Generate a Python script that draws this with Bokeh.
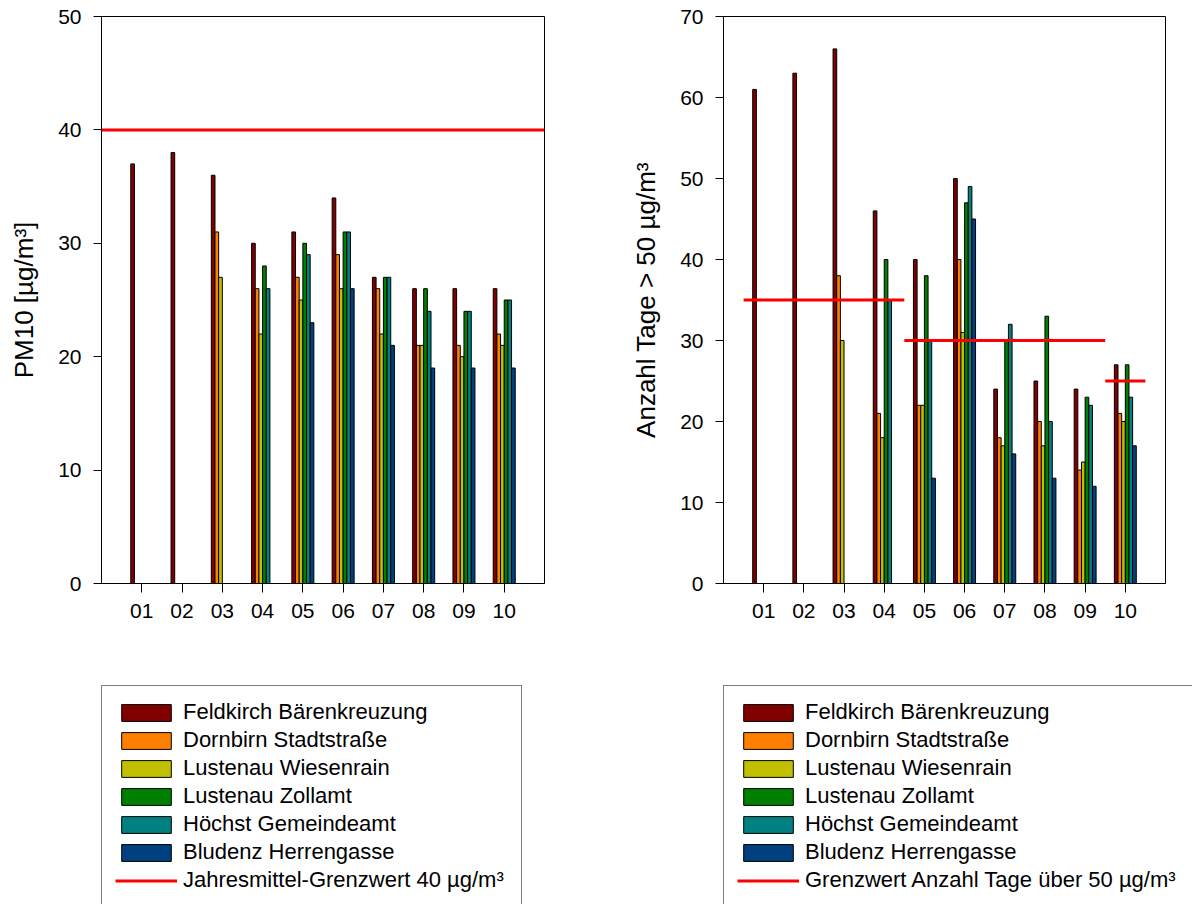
import numpy as np
from bokeh.plotting import figure
from bokeh.models import Range1d, FixedTicker, Legend, LegendItem, ColumnDataSource
from bokeh.layouts import row, column
from bokeh.embed import file_html
from bokeh.resources import INLINE

# ---------------- data ----------------
categories = ["01", "02", "03", "04", "05", "06", "07", "08", "09", "10"]
stations = ["Feldkirch Bärenkreuzung", "Dornbirn Stadtstraße", "Lustenau Wiesenrain",
            "Lustenau Zollamt", "Höchst Gemeindeamt", "Bludenz Herrengasse"]
colors = ["#800000", "#FF8000", "#C0C000", "#008000", "#008080", "#004080"]

# PM10 annual mean [µg/m³]
pm10_feldkirch = [37, 38, 36, 30, 31, 34, 27, 26, 26, 26]
pm10_dornbirn = [None, None, 31, 26, 27, 29, 26, 21, 21, 22]
pm10_wiesenrain = [None, None, 27, 22, 25, 26, 22, 21, 20, 21]
pm10_zollamt = [None, None, None, 28, 30, 31, 27, 26, 24, 25]
pm10_hoechst = [None, None, None, 26, 29, 31, 27, 24, 24, 25]
pm10_bludenz = [None, None, None, None, 23, 26, 21, 19, 19, 19]

# days > 50 µg/m³
days_feldkirch = [61, 63, 66, 46, 40, 50, 24, 25, 24, 27]
days_dornbirn = [None, None, 38, 21, 22, 40, 18, 20, 14, 21]
days_wiesenrain = [None, None, 30, 18, 22, 31, 17, 17, 15, 20]
days_zollamt = [None, None, None, 40, 38, 47, 30, 33, 23, 27]
days_hoechst = [None, None, None, 35, 30, 49, 32, 20, 22, 23]
days_bludenz = [None, None, None, None, 13, 45, 16, 13, 12, 17]

pm10_limit = 40
pm10_limit_label = "Jahresmittel-Grenzwert 40 µg/m³"
days_limit_values = [35, 30, 25]
days_limit_from = [0.5, 4.5, 9.5]
days_limit_to = [4.5, 9.5, 10.5]
days_limit_label = "Grenzwert Anzahl Tage über 50 µg/m³"

pm10_series = [pm10_feldkirch, pm10_dornbirn, pm10_wiesenrain, pm10_zollamt, pm10_hoechst, pm10_bludenz]
days_series = [days_feldkirch, days_dornbirn, days_wiesenrain, days_zollamt, days_hoechst, days_bludenz]

FONT = "Liberation Sans"
X_MIN, X_MAX = 0, 11
BAR_W = 0.091
LIMIT_COLOR = "#FF0000"
xs = np.arange(1, len(categories) + 1)


def to_arr(vals):
    return np.array([np.nan if v is None else float(v) for v in vals])


def make_fig(width, border_left, border_right, ymax, ylabel):
    p = figure(width=width, height=660, output_backend="svg", toolbar_location=None,
               x_range=Range1d(X_MIN, X_MAX), y_range=Range1d(0, ymax),
               min_border_left=border_left, min_border_right=border_right,
               min_border_top=16, min_border_bottom=77)
    p.xgrid.visible = False
    p.ygrid.visible = False
    p.outline_line_color = "black"
    p.outline_line_width = 1
    p.background_fill_color = "white"
    p.border_fill_color = "white"

    xa = p.xaxis[0]
    xa.ticker = FixedTicker(ticks=list(xs))
    xa.major_label_overrides = {int(i): c for i, c in zip(xs, categories)}
    xa.major_tick_in = 0
    xa.major_tick_out = 9
    xa.minor_tick_out = 0
    xa.minor_tick_in = 0
    xa.major_label_standoff = 11
    xa.major_label_text_font = FONT
    xa.major_label_text_font_size = "21px"
    xa.major_label_text_color = "black"
    xa.axis_line_color = "black"

    ya = p.yaxis[0]
    ya.ticker = FixedTicker(ticks=list(range(0, ymax + 1, 10)))
    ya.major_tick_in = 0
    ya.major_tick_out = 8
    ya.minor_tick_out = 0
    ya.minor_tick_in = 0
    ya.major_label_standoff = 12
    ya.major_label_text_font = FONT
    ya.major_label_text_font_size = "21px"
    ya.major_label_text_color = "black"
    ya.axis_line_color = "black"
    ya.axis_label = ylabel
    ya.axis_label_text_font = FONT
    ya.axis_label_text_font_size = "26px"
    ya.axis_label_text_font_style = "normal"
    ya.axis_label_text_color = "black"
    ya.axis_label_standoff = 16
    return p


def make_sources(series):
    return [ColumnDataSource(dict(x=xs + (i - 2.5) * BAR_W, top=to_arr(vals)))
            for i, vals in enumerate(series)]


def add_bars(p, sources, visible=True):
    rends = []
    for src, col in zip(sources, colors):
        r = p.vbar(x="x", top="top", width=BAR_W, bottom=0, source=src,
                   fill_color=col, line_color="black", line_width=1, visible=visible)
        rends.append(r)
    return rends


def make_legend_fig(width, border_left, sources, limit_src, limit_label, segment, label_width):
    q = figure(width=width, height=244, output_backend="svg", toolbar_location=None,
               x_range=Range1d(X_MIN, X_MAX), y_range=Range1d(0, 1),
               x_axis_location=None, y_axis_location=None,
               min_border_left=border_left, min_border_right=0,
               min_border_top=15, min_border_bottom=0)
    q.outline_line_color = None
    q.grid.visible = False
    q.background_fill_color = "white"
    q.border_fill_color = "white"
    rends = add_bars(q, sources, visible=False)
    items = [LegendItem(label=s, renderers=[r]) for s, r in zip(stations, rends)]
    if segment:
        rl = q.segment(x0="x0", x1="x1", y0="y", y1="y", source=limit_src,
                       line_color=LIMIT_COLOR, line_width=3, visible=False)
    else:
        rl = q.line(x="x", y="y", source=limit_src, line_color=LIMIT_COLOR,
                    line_width=3, visible=False)
    items.append(LegendItem(label=limit_label, renderers=[rl]))
    leg = Legend(items=items, location="top_left")
    leg.margin = 10
    leg.label_text_font = FONT
    leg.label_text_font_size = "22px"
    leg.label_text_color = "black"
    leg.glyph_width = 62
    leg.glyph_height = 21
    leg.label_standoff = 6
    leg.label_width = label_width
    leg.padding = 13
    leg.spacing = 2
    leg.border_line_color = "black"
    leg.border_line_width = 1
    leg.background_fill_color = "white"
    leg.background_fill_alpha = 1
    leg.inactive_fill_alpha = 0
    leg.click_policy = "none"
    q.add_layout(leg, "center")
    return q


# ---------------- left chart ----------------
src1 = make_sources(pm10_series)
lim1_src = ColumnDataSource(dict(x=[X_MIN, X_MAX], y=[pm10_limit, pm10_limit]))
p1 = make_fig(620, 101, 76, 50, "PM10 [µg/m³]")
add_bars(p1, src1)
p1.line(x="x", y="y", source=lim1_src, line_color=LIMIT_COLOR, line_width=3)

# ---------------- right chart ----------------
src2 = make_sources(days_series)
lim2_src = ColumnDataSource(dict(x0=days_limit_from, x1=days_limit_to, y=days_limit_values))
p2 = make_fig(572, 103, 27, 70, "Anzahl Tage > 50 µg/m³")
add_bars(p2, src2)
p2.segment(x0="x0", x1="x1", y0="y", y1="y", source=lim2_src,
           line_color=LIMIT_COLOR, line_width=3)

l1 = make_legend_fig(620, 91, src1, lim1_src, pm10_limit_label, False, 325)
l2 = make_legend_fig(572, 93, src2, lim2_src, days_limit_label, True, 420)

layout = column(row(p1, p2), row(l1, l2))
open("out.html", "w").write(file_html(layout, INLINE))
